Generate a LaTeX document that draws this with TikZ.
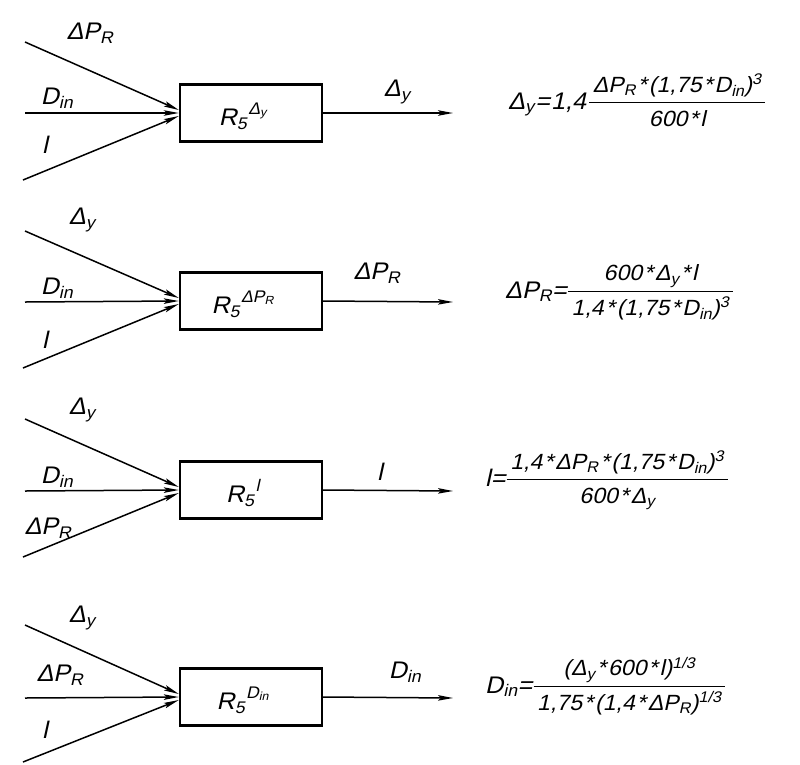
\documentclass[tikz,border=0pt]{standalone}
\usepackage{amsmath}
\usepackage{fontspec}
\usetikzlibrary{arrows.meta,calc}
\newfontfamily\gost[FakeSlant=0.22,FakeStretch=1.05]{Liberation Sans}
\newcommand\Dy{Δ\textsubscript{y}}
\newcommand\DP{ΔP\textsubscript{R}}
\newcommand\Din{D\textsubscript{in}}
\newcommand\st{\kern2pt*\kern2pt}
\newcommand\Rbox[1]{R\textsubscript{5}\textsuperscript{\kern1pt\raisebox{2pt}{#1}}}
\newcommand\gfrac[2]{$\genfrac{}{}{1.3pt}{0}{\text{\fontsize{22}{24}\selectfont\,#1\,}}{\text{\fontsize{22}{24}\selectfont\,#2\,}}$}
\tikzset{
  every node/.style={font=\gost\fontsize{24}{28}\selectfont, inner sep=0pt},
  blk/.style={draw, line width=2.4pt, minimum width=142pt, minimum height=57pt},
  inarrow/.style={line width=1.5pt, -{Stealth[length=15pt,width=5.5pt,inset=3pt]}},
  eqn/.style={anchor=base west}
}
\begin{document}
\begin{tikzpicture}[x=1pt,y=-1pt]
\useasboundingbox (0,0) rectangle (800,764);
% ---------- block 1
\node[blk] (b1) at (251,113) {};
\node (r1) at (243,116) {\Rbox{\Dy}};
\coordinate (a1) at (25,42);
\coordinate (m1) at (25,113);
\coordinate (c1) at (23,180);
\coordinate (o1) at (453,113);
\draw[inarrow] (a1) -- ($(b1.west)+(0,-3)$);
\draw[inarrow] (m1) -- (b1.west);
\draw[inarrow] (c1) -- ($(b1.west)+(0,3)$);
\draw[inarrow] (b1.east) -- (o1);
\node (la1) at (90,33) {\DP};
\node (lm1) at (57,98) {\Din};
\node (lc1) at (45,145) {l};
\node (lo1) at (397,92) {\Dy};
\node[eqn] (e1) at (508,109) {\Dy\kern1pt=\kern1pt1,4\kern2pt\gfrac{\DP\st(1,75\st\Din)\textsuperscript{3}}{600\st l}};
% ---------- block 2
\node[blk] (b2) at (251,301) {};
\node (r2) at (243,304) {\Rbox{\DP}};
\coordinate (a2) at (25,231);
\coordinate (m2) at (25,302);
\coordinate (c2) at (23,368);
\coordinate (o2) at (453,302);
\draw[inarrow] (a2) -- ($(b2.west)+(0,-3)$);
\draw[inarrow] (m2) -- (b2.west);
\draw[inarrow] (c2) -- ($(b2.west)+(0,3)$);
\draw[inarrow] (b2.east) -- (o2);
\node (la2) at (82,220) {\Dy};
\node (lm2) at (57,288) {\Din};
\node (lc2) at (45,340) {l};
\node (lo2) at (377,273) {\DP};
\node[eqn] (e2) at (505,298) {\DP=\gfrac{600\st\Dy\st l}{1,4\st(1,75\st\Din)\textsuperscript{3}}};
% ---------- block 3
\node[blk] (b3) at (251,490) {};
\node (r3) at (243,493) {\Rbox{l}};
\coordinate (a3) at (25,419);
\coordinate (m3) at (25,491);
\coordinate (c3) at (23,557);
\coordinate (o3) at (453,491);
\draw[inarrow] (a3) -- ($(b3.west)+(0,-3)$);
\draw[inarrow] (m3) -- (b3.west);
\draw[inarrow] (c3) -- ($(b3.west)+(0,3)$);
\draw[inarrow] (b3.east) -- (o3);
\node (la3) at (82,410) {\Dy};
\node (lm3) at (57,477) {\Din};
\node (lc3) at (48,528) {\DP};
\node (lo3) at (380,472) {l};
\node[eqn] (e3) at (485,486) {l=\gfrac{1,4\st\DP\st(1,75\st\Din)\textsuperscript{3}}{600\st\Dy}};
% ---------- block 4
\node[blk] (b4) at (251,697) {};
\node (r4) at (243,700) {\Rbox{\Din}};
\coordinate (a4) at (25,625);
\coordinate (m4) at (25,698);
\coordinate (c4) at (23,762);
\coordinate (o4) at (453,698);
\draw[inarrow] (a4) -- ($(b4.west)+(0,-3)$);
\draw[inarrow] (m4) -- (b4.west);
\draw[inarrow] (c4) -- ($(b4.west)+(0,3)$);
\draw[inarrow] (b4.east) -- (o4);
\node (la4) at (82,618) {\Dy};
\node (lm4) at (60,675) {\DP};
\node (lc4) at (45,730) {l};
\node (lo4) at (405,672) {\Din};
\node[eqn] (e4) at (485,693) {\Din=\gfrac{(\Dy\st600\st l)\textsuperscript{1/3}}{1,75\st(1,4\st\DP)\textsuperscript{1/3}}};
\end{tikzpicture}
\end{document}
